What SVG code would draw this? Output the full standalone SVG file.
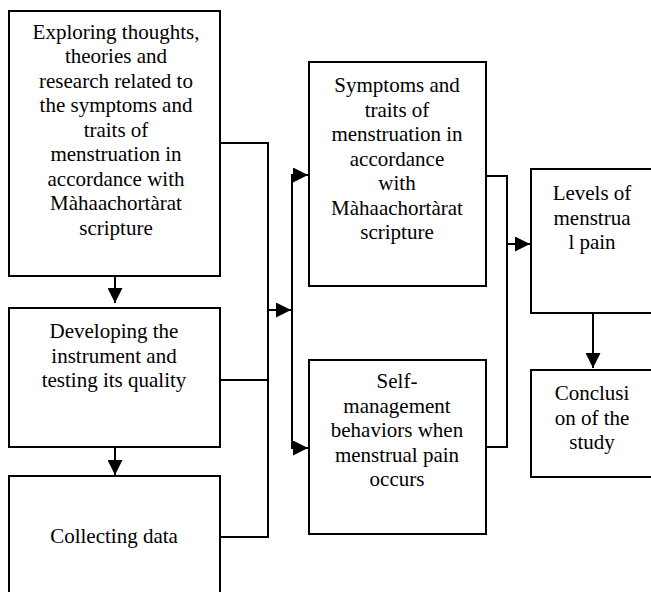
<svg xmlns="http://www.w3.org/2000/svg" width="651" height="592" viewBox="0 0 651 592">
  <style>
    .box { fill: #ffffff; stroke: #000000; stroke-width: 2; }
    .conn { fill: none; stroke: #000000; stroke-width: 2; }
    .lbl { font-family: "Liberation Serif", "Times New Roman", serif; font-size: 21px; fill: #000000; text-anchor: middle; }
  </style>
  <defs>
    <marker id="arrow" markerUnits="userSpaceOnUse" markerWidth="15" markerHeight="15" viewBox="0 0 15 15" refX="15" refY="7.5" orient="auto">
      <path d="M0,0 L15,7.5 L0,15 z" fill="#000000"/>
    </marker>
  </defs>
  <rect x="0" y="0" width="651" height="592" fill="#ffffff"/>

  <g id="connectors">
    <line class="conn" x1="115" y1="276" x2="115" y2="303" marker-end="url(#arrow)"/>
    <line class="conn" x1="115" y1="447" x2="115" y2="475" marker-end="url(#arrow)"/>
    <polyline class="conn" points="220,143 268,143 268,537 220,537"/>
    <line class="conn" x1="220" y1="380" x2="268" y2="380"/>
    <line class="conn" x1="268" y1="310" x2="291" y2="310" marker-end="url(#arrow)"/>
    <line class="conn" x1="292" y1="175" x2="292" y2="448"/>
    <line class="conn" x1="291" y1="175" x2="308" y2="175" marker-end="url(#arrow)"/>
    <line class="conn" x1="291" y1="448" x2="308" y2="448" marker-end="url(#arrow)"/>
    <polyline class="conn" points="486,176 507,176 507,447 486,447"/>
    <line class="conn" x1="507" y1="244" x2="530" y2="244" marker-end="url(#arrow)"/>
    <line class="conn" x1="593" y1="313" x2="593" y2="368" marker-end="url(#arrow)"/>
  </g>

  <g id="node-exploring">
    <rect class="box" x="9" y="11" width="211" height="265"/>
    <text class="lbl" x="116" y="38.5">Exploring thoughts,</text>
    <text class="lbl" x="116" y="63">theories and</text>
    <text class="lbl" x="116" y="87.5">research related to</text>
    <text class="lbl" x="116" y="112">the symptoms and</text>
    <text class="lbl" x="116" y="136.5">traits of</text>
    <text class="lbl" x="116" y="161">menstruation in</text>
    <text class="lbl" x="116" y="185.5">accordance with</text>
    <text class="lbl" x="116" y="210">Màhaachortàrat</text>
    <text class="lbl" x="116" y="234.5">scripture</text>
  </g>

  <g id="node-developing">
    <rect class="box" x="9" y="308" width="211" height="139"/>
    <text class="lbl" x="114" y="338">Developing the</text>
    <text class="lbl" x="114" y="362.5">instrument and</text>
    <text class="lbl" x="114" y="387">testing its quality</text>
  </g>

  <g id="node-collecting">
    <rect class="box" x="9" y="476" width="211" height="130"/>
    <text class="lbl" x="114" y="543">Collecting data</text>
  </g>

  <g id="node-symptoms">
    <rect class="box" x="309" y="62" width="177" height="224"/>
    <text class="lbl" x="397" y="92">Symptoms and</text>
    <text class="lbl" x="397" y="116.5">traits of</text>
    <text class="lbl" x="397" y="141">menstruation in</text>
    <text class="lbl" x="397" y="165.5">accordance</text>
    <text class="lbl" x="397" y="190">with</text>
    <text class="lbl" x="397" y="214.5">Màhaachortàrat</text>
    <text class="lbl" x="397" y="239">scripture</text>
  </g>

  <g id="node-self-management">
    <rect class="box" x="309" y="360" width="177" height="174"/>
    <text class="lbl" x="397" y="388">Self-</text>
    <text class="lbl" x="397" y="412.5">management</text>
    <text class="lbl" x="397" y="437">behaviors when</text>
    <text class="lbl" x="397" y="461.5">menstrual pain</text>
    <text class="lbl" x="397" y="486">occurs</text>
  </g>

  <g id="node-levels">
    <rect class="box" x="531" y="169" width="140" height="144"/>
    <text class="lbl" x="592" y="200">Levels of</text>
    <text class="lbl" x="592" y="224.5">menstrua</text>
    <text class="lbl" x="592" y="249">l pain</text>
  </g>

  <g id="node-conclusion">
    <rect class="box" x="531" y="370" width="140" height="107"/>
    <text class="lbl" x="592" y="400">Conclusi</text>
    <text class="lbl" x="592" y="424.5">on of the</text>
    <text class="lbl" x="592" y="449">study</text>
  </g>
</svg>
